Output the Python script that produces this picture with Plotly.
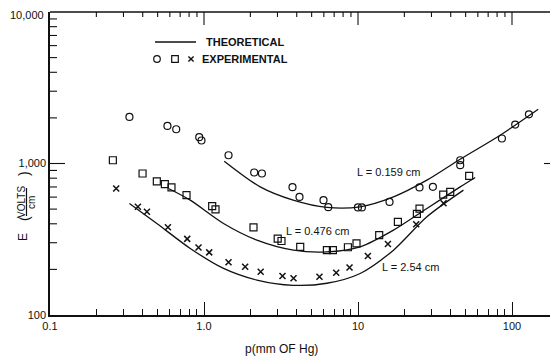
import math
import plotly.graph_objects as go

# ---------------- data ----------------
circ_p = [0.328, 0.579, 0.660, 0.931, 0.963, 1.443, 2.118, 2.377, 3.755, 4.170, 5.97, 6.41,
          9.99, 10.60, 16.02, 25.08, 30.64, 46.1, 46.1, 86.0, 104.9, 128.8]
circ_E = [2029, 1770, 1683, 1491, 1418, 1134, 872, 859, 698, 602, 573, 515,
          513, 513, 558, 695, 701, 1051, 975, 1462, 1807, 2113]

sq_p = [0.256, 0.399, 0.494, 0.557, 0.615, 0.770, 1.130, 1.188, 2.096, 3.010, 3.185, 4.215,
        6.28, 6.87, 8.60, 9.78, 13.73, 18.16, 24.12, 25.08, 35.75, 39.7, 52.7]
sq_E = [1051, 859, 761, 730, 695, 618, 523, 498, 379, 319, 308, 282,
        268, 268, 280, 297, 337, 412, 465, 504, 623, 650, 828]

x_p = [0.269, 0.372, 0.426, 0.583, 0.778, 0.921, 1.081, 1.443, 1.851, 2.334, 3.233, 3.813,
       5.62, 7.22, 8.81, 11.59, 15.64, 23.87, 35.92]
x_E = [684, 518, 480, 379, 318, 279, 259, 223, 208, 193, 181, 175,
       179, 190, 206, 245, 294, 397, 547]

th159_p = [1.353, 2.317, 3.795, 6.28, 10.33, 17.0, 28.02, 46.1, 83.8, 148.0]
th159_E = [1036, 701, 573, 513, 518, 602, 776, 1067, 1537, 2280]

th476_p = [0.588, 0.814, 1.339, 2.206, 3.813, 6.28, 10.33, 17.0, 28.02, 46.1, 57.7]
th476_E = [684, 573, 402, 312, 268, 261, 282, 363, 505, 701, 809]

th254_p = [0.328, 0.494, 0.814, 1.339, 2.206, 3.795, 6.28, 10.33, 17.0, 28.02, 48.4]
th254_E = [545, 402, 275, 203, 170, 157, 162, 188, 268, 445, 667]

x_tickvals = [0.1, 1, 10, 100]
x_ticktext = ["0.1", "1.0", "10", "100"]
y_tickvals = [100, 1000, 10000]
y_ticktext = ["100", "1,000", "10,000"]

# ---------------- layout helpers ----------------
OFF = 8                      # default page body margin
W, H = 558 - OFF, 358 - OFF  # figure size
# plot area in page pixels: left 50, right 558, top 12, bottom 315
L_, R_, T_, B_ = 50 - OFF, 0, 12 - OFF, 358 - 315
PW, PH = W - L_ - R_, H - T_ - B_
FONT = "Liberation Sans"
INK = "#111111"
XR = [-1, -1 + PW / 154.0]
YR = [2, 4]
XPX = PW / (XR[1] - XR[0])   # pixels per decade
YPX = PH / (YR[1] - YR[0])


def paper(px, py):
    """page pixel -> paper coords"""
    fx, fy = px - OFF, py - OFF
    return (fx - L_) / PW, (H - B_ - fy) / PH


fig = go.Figure()

line_style = dict(color=INK, width=1.3, shape="spline", smoothing=0.8)
for p, E in [(th159_p, th159_E), (th476_p, th476_E), (th254_p, th254_E)]:
    fig.add_trace(go.Scatter(x=p, y=E, mode="lines", line=line_style,
                             showlegend=False, hoverinfo="skip"))

fig.add_trace(go.Scatter(x=circ_p, y=circ_E, mode="markers", showlegend=False,
                         marker=dict(symbol="circle-open", size=7, color=INK,
                                     line=dict(width=1.2, color=INK))))
fig.add_trace(go.Scatter(x=sq_p, y=sq_E, mode="markers", showlegend=False,
                         marker=dict(symbol="square-open", size=7, color=INK,
                                     line=dict(width=1.2, color=INK))))
fig.add_trace(go.Scatter(x=x_p, y=x_E, mode="markers", showlegend=False,
                         marker=dict(symbol="x-thin-open", size=6, color=INK,
                                     line=dict(width=1.5, color=INK))))

minor_x = [m * 10 ** e for e in (-1, 0, 1, 2) for m in range(2, 10)]
minor_y = [m * 10 ** e for e in (2, 3) for m in range(2, 10)]

# tick marks for top, left and right sides, built from the tick values
# and the axis scale (pixel lengths converted to decades)
tx, ty = [], []
y_top = 10 ** YR[1]
for v, ln in [(v, 13) for v in x_tickvals] + [(v, 5) for v in minor_x]:
    if XR[0] < math.log10(v) < XR[1]:
        tx += [v, v, None]
        ty += [y_top, 10 ** (YR[1] - ln / YPX), None]
x_left, x_right = 10 ** XR[0], 10 ** XR[1]
for v, ln_l, ln_r in [(v, 15, 14) for v in y_tickvals] + [(v, 7, 6) for v in minor_y]:
    if YR[0] < math.log10(v) < YR[1]:
        tx += [x_left, 10 ** (XR[0] + ln_l / XPX), None]
        ty += [v, v, None]
        tx += [x_right, 10 ** (XR[1] - ln_r / XPX), None]
        ty += [v, v, None]
fig.add_trace(go.Scatter(x=tx, y=ty, mode="lines", line=dict(color=INK, width=1.1),
                         showlegend=False, hoverinfo="skip", connectgaps=False))

fig.update_layout(
    template="none",
    width=W, height=H,
    margin=dict(l=L_, r=R_, t=T_, b=B_, pad=0, autoexpand=False),
    paper_bgcolor="white", plot_bgcolor="white",
    font=dict(family=FONT, size=11, color=INK),
    xaxis=dict(type="log", range=XR, automargin=False,
               showline=True, linewidth=1.5, linecolor=INK,
               ticks="inside", ticklen=13, tickwidth=1.2, tickcolor=INK,
               tickvals=x_tickvals, ticktext=x_ticktext, ticklabeloverflow="allow",
               minor=dict(ticks="inside", ticklen=6, tickwidth=1, tickcolor=INK,
                          tickvals=minor_x, showgrid=False),
               showgrid=False, zeroline=False,
               tickfont=dict(family=FONT, size=11, color=INK)),
    yaxis=dict(type="log", range=YR, automargin=False,
               showline=True, linewidth=1.5, linecolor=INK,
               ticks="", tickvals=y_tickvals, ticktext=["100", "1,000", ""],
               ticklabeloverflow="allow",
               showgrid=False, zeroline=False,
               tickfont=dict(family=FONT, size=11, color=INK)),
)

ann = []


def add_text(text, px, py, size=11, angle=0, xanchor="center", bold=False):
    xx, yy = paper(px, py)
    ann.append(dict(text=f"<b>{text}</b>" if bold else text, x=xx, y=yy,
                    xref="paper", yref="paper", showarrow=False,
                    xanchor=xanchor, yanchor="middle", textangle=angle,
                    font=dict(family=FONT, size=size, color=INK)))


# top y tick label, nudged so it is not clipped by the page edge
add_text(y_ticktext[2], 46, 15, size=11, xanchor="right")
# legend texts
add_text("THEORETICAL", 204, 42, size=11, xanchor="left", bold=True)
add_text("EXPERIMENTAL", 200, 59, size=11, xanchor="left", bold=True)
# curve labels
add_text("L = 0.159 cm", 389, 172, size=11)
add_text("L = 0.476 cm", 318, 231, size=11)
add_text("L = 2.54 cm", 410, 267, size=11)
# axis titles
add_text("p(mm OF Hg)", 281, 349, size=12)
add_text("E", 23, 237, size=12, angle=-90)
add_text("(", 24, 219, size=14, angle=-90)
add_text("VOLTS", 21, 202, size=10, angle=-90)
add_text("cm", 31, 203, size=10, angle=-90)
add_text(")", 24, 174, size=14, angle=-90)
fig.update_layout(annotations=ann)

shapes = []
# top frame line
shapes.append(dict(type="line", xref="paper", yref="paper", x0=0, y0=1, x1=1, y1=1,
                   line=dict(color=INK, width=1.5), layer="above"))
# legend: line sample and marker samples (circle, square, x)
x0, y0 = paper(155, 42)
x1, y1 = paper(196, 42)
shapes.append(dict(type="line", xref="paper", yref="paper", x0=x0, y0=y0, x1=x1, y1=y1,
                   line=dict(color=INK, width=1.3)))
r = 3.3
cx0, cy0 = paper(157 - r, 59 + r)
cx1, cy1 = paper(157 + r, 59 - r)
shapes.append(dict(type="circle", xref="paper", yref="paper", x0=cx0, y0=cy0,
                   x1=cx1, y1=cy1, line=dict(color=INK, width=1.2)))
sx0, sy0 = paper(175 - r, 59 + r)
sx1, sy1 = paper(175 + r, 59 - r)
shapes.append(dict(type="rect", xref="paper", yref="paper", x0=sx0, y0=sy0,
                   x1=sx1, y1=sy1, line=dict(color=INK, width=1.2)))
k = 2.6
for (ax_, ay_, bx_, by_) in [(191 - k, 59 - k, 191 + k, 59 + k),
                             (191 - k, 59 + k, 191 + k, 59 - k)]:
    p0x, p0y = paper(ax_, ay_)
    p1x, p1y = paper(bx_, by_)
    shapes.append(dict(type="line", xref="paper", yref="paper", x0=p0x, y0=p0y,
                       x1=p1x, y1=p1y, line=dict(color=INK, width=1.4)))
# fraction bar of the y title
x0, y0 = paper(26.5, 188)
x1, y1 = paper(26.5, 216)
shapes.append(dict(type="line", xref="paper", yref="paper", x0=x0, y0=y0, x1=x1, y1=y1,
                   line=dict(color=INK, width=1.2)))
fig.update_layout(shapes=shapes)

fig.write_html("out.html")
